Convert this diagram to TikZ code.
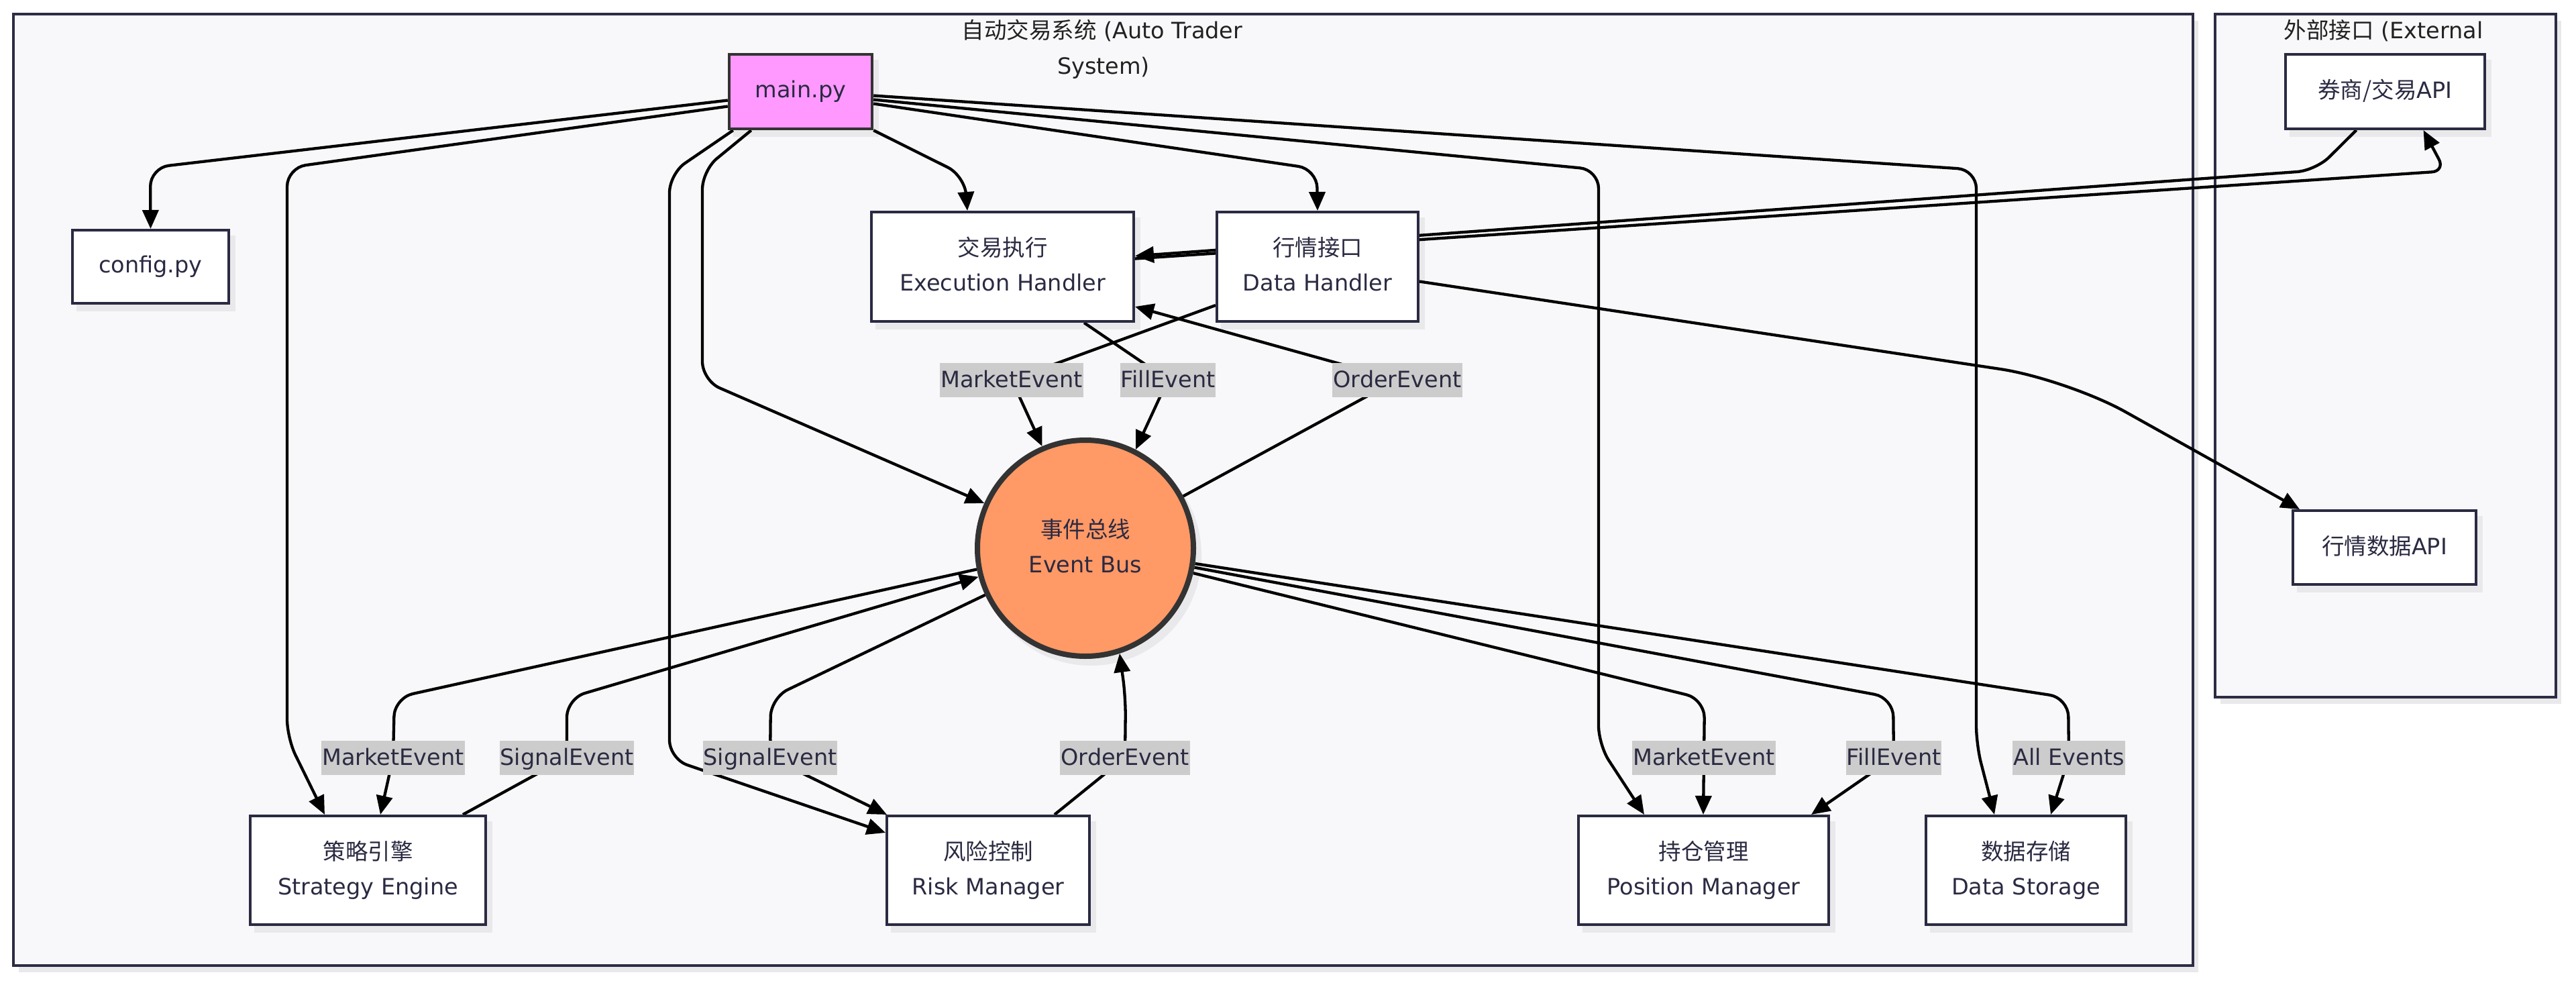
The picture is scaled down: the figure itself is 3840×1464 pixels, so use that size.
\documentclass[tikz,border=0pt]{standalone}
\usepackage{fontspec}
\setmainfont{DejaVu Sans}
\newfontfamily\cjk{Noto Sans CJK SC}
\usetikzlibrary{arrows.meta,calc}
\definecolor{bgc}{HTML}{F8F8FA}
\definecolor{frame}{HTML}{2C2C44}
\definecolor{nodeb}{HTML}{2A2A42}
\definecolor{mainb}{HTML}{333333}
\definecolor{mainfill}{HTML}{FF99FF}
\definecolor{busfill}{HTML}{FF9966}
\definecolor{lblgray}{HTML}{CCCCCC}
\definecolor{shadowc}{HTML}{E9E9EB}
\definecolor{txt}{HTML}{2A2A42}
\definecolor{ttlc}{HTML}{222222}
\pgfdeclarelayer{back}
\pgfdeclarelayer{edges}
\pgfsetlayers{back,edges,main}
\begin{document}
\begin{tikzpicture}[x=1pt,y=-1pt,
  box/.style={draw=nodeb, line width=4pt, fill=white, text=txt, inner sep=0pt, align=center, text depth=8pt, font=\fontsize{33.5}{52}\selectfont},
  lbl/.style={fill=lblgray, text=txt, inner xsep=1pt, inner ysep=0pt, minimum height=51pt, text height=30pt, text depth=7pt, font=\fontsize{33.5}{40}\selectfont},
  conn/.style={draw=black, line width=4.3pt, rounded corners=28pt},
  arr/.style={conn, -{Triangle[length=28pt,width=24pt]}},
  ttl/.style={text=ttlc, font=\fontsize{33.5}{40}\selectfont, anchor=base, inner sep=0pt}
]
\useasboundingbox (0,0) rectangle (3840,1464);

% titles
\node[ttl] (t1) at (1643,58) {{\cjk 自动交易系统} (Auto Trader};
\node[ttl] (t2) at (1645,110) {System)};
\node[ttl] (t3) at (3553,57) {{\cjk 外部接口} (External};

% nodes
\node[box, draw=mainb, line width=4.5pt, fill=mainfill, minimum width=213pt, minimum height=111pt] (main) at (1193.5,136.5) {main.py};
\node[box, minimum width=233pt, minimum height=109pt] (config) at (224.5,397.5) {config.py};
\node[box, minimum width=391pt, minimum height=163pt] (exec) at (1494.5,397.5) {{\cjk 交易执行}\\Execution Handler};
\node[box, minimum width=300pt, minimum height=163pt] (data) at (1964,397.5) {{\cjk 行情接口}\\Data Handler};
\node[box, minimum width=297pt, minimum height=111pt] (api1) at (3555.5,136.5) {{\cjk 券商/交易}API};
\node[box, minimum width=273pt, minimum height=110pt] (api2) at (3554.5,816) {{\cjk 行情数据}API};
\node[box, minimum width=351pt, minimum height=162pt] (strat) at (548.5,1297) {{\cjk 策略引擎}\\Strategy Engine};
\node[box, minimum width=302pt, minimum height=162pt] (risk) at (1473,1297) {{\cjk 风险控制}\\Risk Manager};
\node[box, minimum width=373pt, minimum height=162pt] (pos) at (2539.5,1297) {{\cjk 持仓管理}\\Position Manager};
\node[box, minimum width=298pt, minimum height=162pt] (store) at (3020,1297) {{\cjk 数据存储}\\Data Storage};
\node[box, circle, draw=mainb, line width=8pt, fill=busfill, minimum size=322pt] (bus) at (1618,817) {{\cjk 事件总线}\\Event Bus};

% edge labels
\node[lbl] (lT1) at (1508,566) {MarketEvent};
\node[lbl] (lT2) at (1741,566) {FillEvent};
\node[lbl] (lT3) at (2083,566) {OrderEvent};
\node[lbl] (lB1) at (586,1129) {MarketEvent};
\node[lbl] (lB2) at (845,1129) {SignalEvent};
\node[lbl] (lB3) at (1148,1129) {SignalEvent};
\node[lbl] (lB4) at (1677,1129) {OrderEvent};
\node[lbl] (lB5) at (2540,1129) {MarketEvent};
\node[lbl] (lB6) at (2823,1129) {FillEvent};
\node[lbl] (lB7) at (3084,1129) {All Events};

% background: page, containers and shadows
\begin{pgfonlayer}{back}
\fill[white] (0,0) rectangle (3840,1464);
\fill[shadowc] (28,31) rectangle (3277,1449);
\fill[shadowc] (3310,31) rectangle (3818,1049);
\draw[draw=frame, fill=bgc, line width=4pt] (20,21) rectangle (3269,1439);
\draw[draw=frame, fill=bgc, line width=4pt] (3302,21) rectangle (3810,1039);
\foreach \n in {main,config,exec,data,api1,api2,strat,risk,pos,store}
  \fill[shadowc] ($(\n.south west)+(8,10)$) rectangle ($(\n.north east)+(8,10)$);
\fill[shadowc] ($(bus.center)+(8,10)$) circle[radius=165pt];
\end{pgfonlayer}

% connectors
\begin{pgfonlayer}{edges}
% from main.py
\draw[arr] ($(main.west)+(0,13)$) -- (224,250) -- (config.north);
\draw[arr] ($(main.west)+(0,22)$) -- (428,250) -- (428,1100) -- ($(strat.north west)+(113,0)$);
\draw[arr] ($(main.south west)+(8,0)$) -- (998,259) -- (998,1131) -- ($(risk.west)+(0,-56)$);
\draw[arr] ($(main.south west)+(35,0)$) -- (1047,254) -- (1047,567) -- (bus.156.5);
\draw[arr] (main.south east) -- (1438,262) -- ($(exec.north west)+(145,0)$);
\draw[arr] ($(main.east)+(0,18)$) -- (1963,252) -- (data.north);
\draw[arr] ($(main.east)+(0,12)$) -- (2383,253) -- (2383,1110) -- ($(pos.north west)+(100,0)$);
\draw[arr] ($(main.east)+(0,6)$) -- (2946,253) -- (2946,1110) -- ($(store.north west)+(104,0)$);
% external interfaces
\draw[arr, rounded corners=20pt] ($(exec.east)+(0,-12)$) -- (3645,255) -- ($(api1.south)+(57,0)$);
\draw[arr] ($(api1.south)+(-43,0)$) -- (3452,254) -- ($(exec.east)+(0,-16)$);
\draw[arr, rounded corners=100pt] ($(data.east)+(0,22)$) -- (3081,565) -- ($(api2.north west)+(12,0)$);
% event bus, upper part
\draw[arr] ($(data.south west)+(0,-26)$) -- (lT1.center) -- (bus.113.5);
\draw[arr] ($(exec.south east)+(-76,0)$) -- (lT2.center) -- (bus.63.3);
\draw[arr] (bus.28.6) -- (lT3.center) -- ($(exec.south east)+(0,-24)$);
% event bus, lower part
\draw[arr] (bus.191.6) -- (588,1040) -- (lB1.center) -- ($(strat.north west)+(196,0)$);
\draw[arr] ($(strat.north west)+(319,0)$) -- (lB2.center) -- (845,1041) -- (bus.195.2);
\draw[arr] (bus.205.3) -- (1149,1040) -- (lB3.center) -- ($(risk.north west)+(2,0)$);
\draw[arr] ($(risk.north west)+(252,0)$) -- (lB4.center) -- (1678,1040) -- (bus.-72);
\draw[arr] (bus.-13.6) -- (2541,1042) -- (lB5.center) -- ($(pos.north west)+(188,0)$);
\draw[arr] (bus.-10.6) -- (2822,1040) -- (lB6.center) -- ($(pos.north east)+(-28,0)$);
\draw[arr] (bus.-8.6) -- (3083,1040) -- (lB7.center) -- ($(store.north west)+(188,0)$);
\end{pgfonlayer}
\end{tikzpicture}
\end{document}
